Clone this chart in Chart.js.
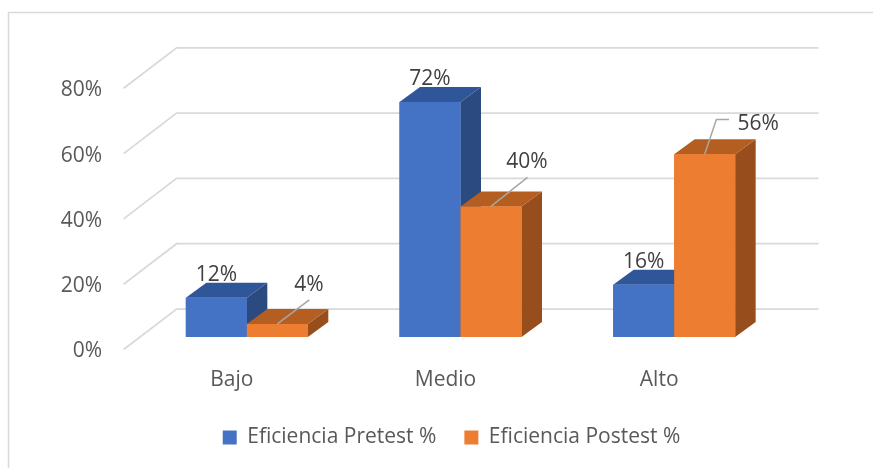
<!DOCTYPE html>
<html><head><meta charset="utf-8">
<script src="https://cdn.jsdelivr.net/npm/chart.js@4.4.1/dist/chart.umd.min.js"></script>
<style>html,body{margin:0;padding:0;background:#fff;}canvas{display:block;}</style>
</head><body>
<canvas id="c" width="873" height="468"></canvas>
<script>
// ---- data ----
const categories = ['Bajo', 'Medio', 'Alto'];
const seriesNames = ['Eficiencia Pretest %', 'Eficiencia Postest %'];
const pretest = [12, 72, 16];
const postest = [4, 40, 56];
const yTickValues = [0, 20, 40, 60, 80];

// ---- styling ----
const FONT = "'Open Sans', 'Noto Sans', sans-serif";
const FS = 21;
const frontColors = ['#4472C4', '#ED7D31'];
const topColors = ['#30569A', '#B55E21'];
const sideColors = ['#2A4A80', '#984D1C'];
const BAR_DX = 20.5, BAR_DY = 15;          // bar depth projection
const FLOOR_FRONT = {dx: -16.4, dy: 12.5}; // front edge of floor relative to bar plane
const WALL_BACK = {dx: 36.6, dy: -28};     // back wall relative to bar plane
// label placement for the postest series (relative to bar top front centre)
const postLabelPlace = [
  {dx: 31.5, dy: -41, elbow: false},
  {dx: 36, dy: -46, elbow: false},
  {dx: 53.5, dy: -32.3, elbow: true}
];
const TEXT_SHIFT = 2; // baseline compensation for the substitute font

const gridPlugin = {
  id: 'grid3d',
  beforeDraw(chart) {
    const ctx = chart.ctx;
    ctx.save();
    ctx.strokeStyle = '#D9D9D9';
    ctx.lineWidth = 1.5;
    ctx.strokeRect(8.5, 12.5, chart.width + 20, chart.height + 20);
    ctx.restore();
  },
  beforeDatasetsDraw(chart) {
    const ctx = chart.ctx, ys = chart.scales.y, ca = chart.chartArea;
    ctx.save();
    ctx.strokeStyle = '#D9D9D9';
    ctx.lineWidth = 1.75;
    yTickValues.forEach(v => {
      const p = ys.getPixelForValue(v);
      ctx.beginPath();
      ctx.moveTo(ca.left + FLOOR_FRONT.dx, p + FLOOR_FRONT.dy);
      ctx.lineTo(ca.left + WALL_BACK.dx, p + WALL_BACK.dy);
      ctx.lineTo(ca.right + WALL_BACK.dx + 0.9, p + WALL_BACK.dy);
      ctx.stroke();
    });
    ctx.restore();
  }
};

const bar3dPlugin = {
  id: 'bar3d',
  afterDatasetsDraw(chart) {
    const ctx = chart.ctx;
    ctx.save();
    const n = categories.length;
    for (let i = 0; i < n; i++) {
      for (let d = 0; d < chart.data.datasets.length; d++) {
        const el = chart.getDatasetMeta(d).data[i];
        const {x, y, base, width} = el.getProps(['x', 'y', 'base', 'width'], true);
        const l = x - width / 2, r = x + width / 2;
        // side
        ctx.fillStyle = sideColors[d];
        ctx.beginPath();
        ctx.moveTo(r, y); ctx.lineTo(r + BAR_DX, y - BAR_DY);
        ctx.lineTo(r + BAR_DX, base - BAR_DY); ctx.lineTo(r, base);
        ctx.closePath(); ctx.fill();
        // top
        ctx.fillStyle = topColors[d];
        ctx.beginPath();
        ctx.moveTo(l, y); ctx.lineTo(l + BAR_DX, y - BAR_DY);
        ctx.lineTo(r + BAR_DX, y - BAR_DY); ctx.lineTo(r, y);
        ctx.closePath(); ctx.fill();
        // front
        ctx.fillStyle = frontColors[d];
        ctx.fillRect(l, y, width, base - y);
      }
    }
    // labels
    ctx.font = FS + 'px ' + FONT;
    ctx.textAlign = 'center';
    ctx.textBaseline = 'middle';
    ctx.fillStyle = '#404040';
    const m0 = chart.getDatasetMeta(0).data, m1 = chart.getDatasetMeta(1).data;
    for (let i = 0; i < n; i++) {
      const p = m0[i].getProps(['x', 'y'], true);
      ctx.fillText(pretest[i] + '%', p.x, p.y - BAR_DY - 9.5 + TEXT_SHIFT);
      const q = m1[i].getProps(['x', 'y'], true);
      const pl = postLabelPlace[i];
      const lx = q.x + pl.dx, ly = q.y + pl.dy;
      ctx.strokeStyle = '#A6A6A6';
      ctx.lineWidth = 1.5;
      ctx.beginPath();
      ctx.moveTo(q.x, q.y);
      if (pl.elbow) {
        ctx.lineTo(lx - 41.8, ly - 2.4);
        ctx.lineTo(lx - 29.2, ly - 2.4);
      } else {
        ctx.lineTo(lx + 0.5, ly + 17);
      }
      ctx.stroke();
      ctx.fillText(postest[i] + '%', lx, ly + TEXT_SHIFT);
    }
    ctx.restore();
  }
};

new Chart(document.getElementById('c'), {
  type: 'bar',
  data: {
    labels: categories,
    datasets: [
      {label: seriesNames[0], data: pretest, backgroundColor: frontColors[0], borderWidth: 0},
      {label: seriesNames[1], data: postest, backgroundColor: frontColors[1], borderWidth: 0}
    ]
  },
  options: {
    responsive: false,
    animation: false,
    devicePixelRatio: 1,
    layout: {padding: {left: 50, right: 20, top: 75.8, bottom: 10}},
    datasets: {bar: {categoryPercentage: 0.571, barPercentage: 1}},
    plugins: {
      legend: {
        position: 'bottom',
        labels: {boxWidth: 14, boxHeight: 14, padding: 28, color: '#595959', font: {family: FONT, size: FS}}
      },
      tooltip: {enabled: false}
    },
    scales: {
      x: {
        grid: {display: false, drawTicks: false},
        border: {display: false},
        ticks: {color: '#595959', font: {family: FONT, size: FS}, padding: 30, labelOffset: -15, maxRotation: 0},
        afterFit(s) { s.height = 62; }
      },
      y: {
        min: 0, max: 80,
        grid: {display: false, drawTicks: false},
        border: {display: false},
        ticks: {stepSize: 20, color: '#595959', font: {family: FONT, size: FS}, padding: 38, labelOffset: 14.5,
          callback: v => v + '%'},
        afterFit(s) { s.width = 90; }
      },
      yRight: {
        position: 'right',
        min: 0, max: 80,
        grid: {display: false, drawTicks: false},
        border: {display: false},
        ticks: {display: false},
        afterFit(s) { s.width = 72; }
      }
    }
  },
  plugins: [gridPlugin, bar3dPlugin]
});
</script>
</body></html>
